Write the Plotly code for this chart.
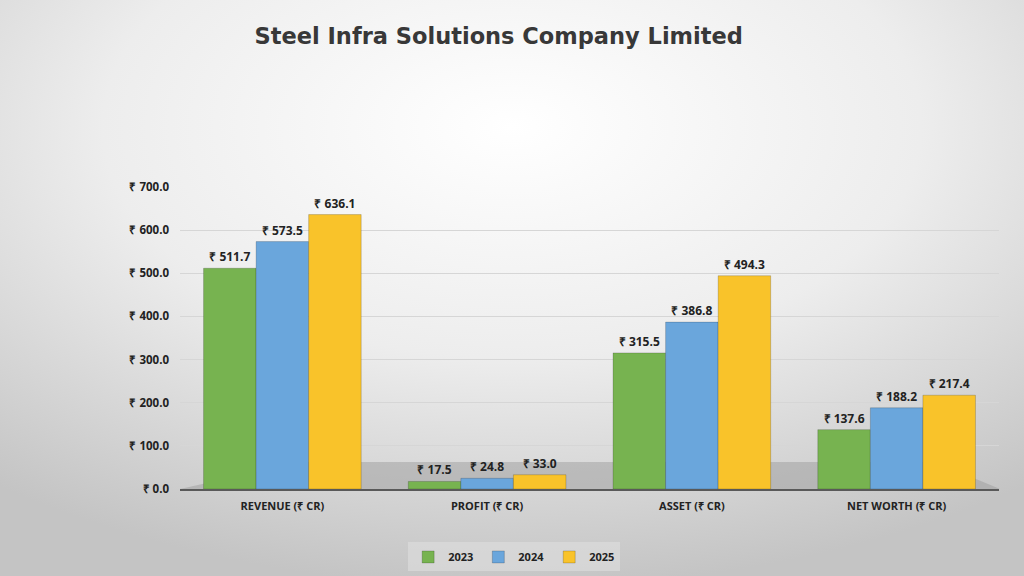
import base64
import plotly.graph_objects as go

categories = ["REVENUE (₹ CR)", "PROFIT (₹ CR)", "ASSET (₹ CR)", "NET WORTH (₹ CR)"]
years = ["2023", "2024", "2025"]
values_2023 = [511.7, 17.5, 315.5, 137.6]
values_2024 = [573.5, 24.8, 386.8, 188.2]
values_2025 = [636.1, 33.0, 494.3, 217.4]
colors = ["#77B350", "#6AA6DC", "#F9C32A"]
tick_vals = [0, 100, 200, 300, 400, 500, 600, 700]
tick_text = ["₹ " + f"{v:.1f}" for v in tick_vals]

W, H = 1024, 576
ML, MR, MT, MB = 180, 25, 187, 87
PW, PH = W - ML - MR, H - MT - MB

svg = """<svg xmlns='http://www.w3.org/2000/svg' width='1024' height='576' preserveAspectRatio='none'>
<defs><radialGradient id='g' cx='50%' cy='22%' r='80%'>
<stop offset='0%' stop-color='#FFFFFF'/><stop offset='50%' stop-color='#EDEDED'/>
<stop offset='100%' stop-color='#C4C4C4'/></radialGradient></defs>
<rect width='1024' height='576' fill='url(#g)'/></svg>"""
bg_src = "data:image/svg+xml;base64," + base64.b64encode(svg.encode()).decode()

def px(xp):
    return (xp - ML) / PW

floor_top = 27 / PH
floor_path = (f"M {px(180)},0 L {px(1000)},0 L {px(935)},{floor_top} "
              f"L {px(300)},{floor_top} Z")

fig = go.Figure()
for yr, vals, col in zip(years, [values_2023, values_2024, values_2025], colors):
    fig.add_trace(go.Bar(
        name=yr, x=categories, y=vals,
        marker=dict(color=col, line=dict(color="rgba(0,0,0,0.18)", width=1)),
        text=["₹ " + f"{v:.1f}" for v in vals],
        textposition="outside", cliponaxis=False,
        textfont=dict(family="Open Sans", size=12, color="#222222", weight="bold"),
    ))

fig.update_layout(
    width=W, height=H,
    paper_bgcolor="#E6E6E6", plot_bgcolor="rgba(0,0,0,0)",
    images=[dict(source=bg_src, xref="paper", yref="paper",
                 x=-ML / PW, y=1 + MT / PH, sizex=W / PW, sizey=H / PH,
                 sizing="stretch", layer="below", xanchor="left", yanchor="top")],
    shapes=[dict(type="path", path=floor_path, xref="paper", yref="paper",
                 fillcolor="rgba(150,150,150,0.45)", line=dict(width=0), layer="below")],
    margin=dict(l=ML, r=MR, t=MT, b=MB, autoexpand=False),
    barmode="group", bargap=0.23, bargroupgap=0,
    title=dict(text="<b>Steel Infra Solutions Company Limited</b>", x=0.487, xanchor="center",
               y=0.937, yanchor="middle",
               font=dict(family="DejaVu Sans", size=22.5, color="#383838")),
    xaxis=dict(showgrid=False, showline=True, linecolor="#595959", linewidth=2,
               tickfont=dict(family="Open Sans", size=11, color="#222222", weight="bold"),
               ticks="", ticklabelstandoff=6),
    yaxis=dict(range=[0, 700], tickvals=tick_vals, ticktext=tick_text,
               showgrid=True, gridcolor="#D6D6D6", zeroline=False, ticklabelstandoff=10,
               tickfont=dict(family="Open Sans", size=11.5, color="#222222", weight="bold")),
    legend=dict(orientation="h", x=0.408, xanchor="center", y=-0.225, yanchor="middle",
                bgcolor="rgba(220,220,220,0.7)", itemwidth=30,
                font=dict(family="Open Sans", size=11, color="#222222", weight="bold")),
    showlegend=True,
)
fig.write_html("out.html", config={"displayModeBar": False},
               post_script="document.body.style.margin='0';document.body.style.overflow='hidden';")
